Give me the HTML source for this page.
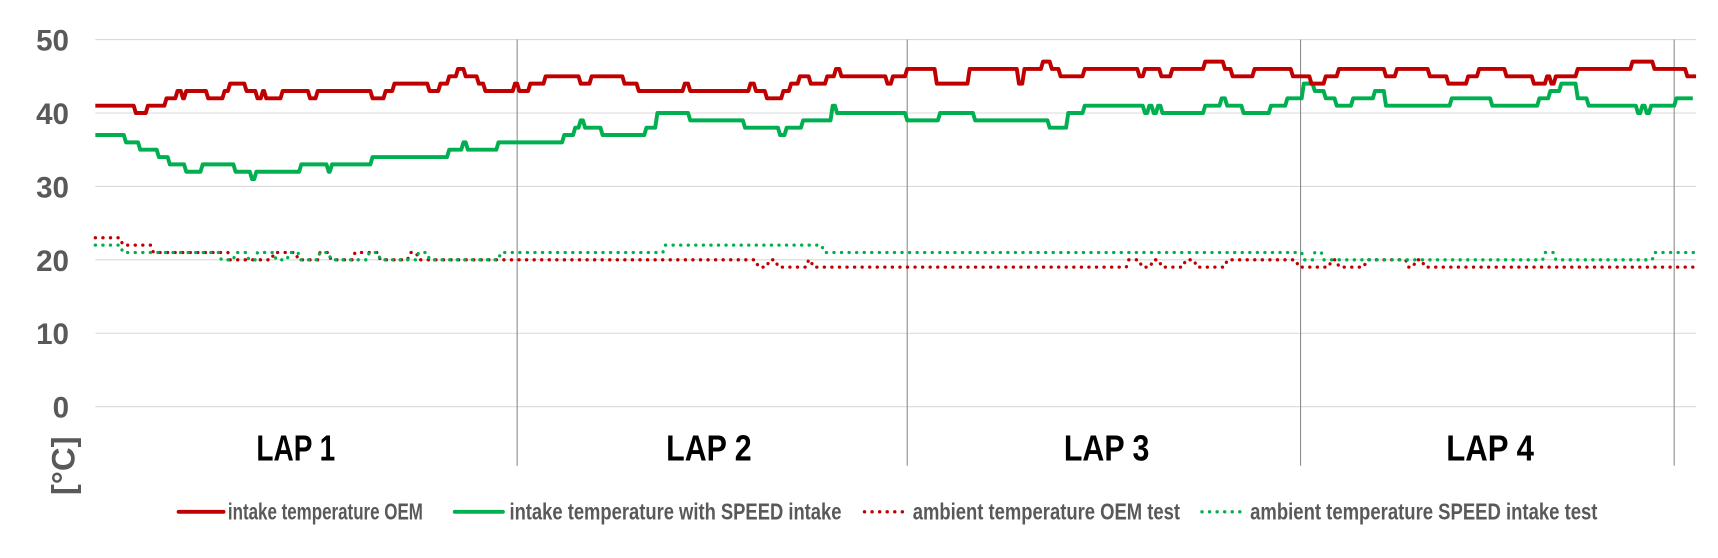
<!DOCTYPE html>
<html><head><meta charset="utf-8"><style>
html,body{margin:0;padding:0;background:#fff;}
svg{display:block;}
text{font-family:"Liberation Sans",sans-serif;font-weight:bold;}
</style></head><body>
<svg id="s" width="1718" height="558" viewBox="0 0 1568 509" xmlns="http://www.w3.org/2000/svg">
<rect width="1568" height="509" fill="#fff"/>
<g stroke="#d9d9d9" stroke-width="1">
<line x1="87" x2="1548" y1="36" y2="36"/><line x1="87" x2="1548" y1="103" y2="103"/>
<line x1="87" x2="1548" y1="170" y2="170"/><line x1="87" x2="1548" y1="237" y2="237"/>
<line x1="87" x2="1548" y1="304" y2="304"/><line x1="87" x2="1548" y1="371" y2="371"/>
</g>
<g stroke="#8c8c8c" stroke-width="1">
<line x1="472" x2="472" y1="36" y2="425"/><line x1="828" x2="828" y1="36" y2="425"/>
<line x1="1187" x2="1187" y1="36" y2="425"/><line x1="1528" x2="1528" y1="36" y2="425"/>
</g>
<g fill="#595959" font-size="27" text-anchor="end">
<text x="63" y="46">50</text><text x="63" y="113">40</text><text x="63" y="180">30</text>
<text x="63" y="247">20</text><text x="63" y="314">10</text><text x="63" y="381">0</text>
</g>
<text transform="translate(68,425) rotate(-90)" fill="#595959" font-size="30" text-anchor="middle">[°C]</text>
<g fill="#000" font-size="33" text-anchor="middle">
<text x="270" y="420" textLength="72" lengthAdjust="spacingAndGlyphs">LAP 1</text>
<text x="647" y="420" textLength="78" lengthAdjust="spacingAndGlyphs">LAP 2</text>
<text x="1010" y="420" textLength="78" lengthAdjust="spacingAndGlyphs">LAP 3</text>
<text x="1360" y="420" textLength="80" lengthAdjust="spacingAndGlyphs">LAP 4</text>
</g>
<g id="series" fill="none"></g>
<line x1="163" x2="204" y1="467" y2="467" stroke="#c00000" stroke-width="3.5" stroke-linecap="round"/>
<line x1="415" x2="459" y1="467" y2="467" stroke="#00b050" stroke-width="3.5" stroke-linecap="round"/>
<line x1="789" x2="828" y1="467" y2="467" stroke="#c00000" stroke-width="3" stroke-linecap="round" stroke-dasharray="0.1 6.8"/>
<line x1="1097" x2="1137" y1="467" y2="467" stroke="#00b050" stroke-width="3" stroke-linecap="round" stroke-dasharray="0.1 6.8"/>
<g fill="#595959" font-size="21">
<text x="208" y="474" textLength="178" lengthAdjust="spacingAndGlyphs">intake temperature OEM</text>
<text x="465" y="474" textLength="303" lengthAdjust="spacingAndGlyphs">intake temperature with SPEED intake</text>
<text x="833" y="474" textLength="244" lengthAdjust="spacingAndGlyphs">ambient temperature OEM test</text>
<text x="1141" y="474" textLength="317" lengthAdjust="spacingAndGlyphs">ambient temperature SPEED intake test</text>
</g>
</svg>
<script>
function Y(v){return 371-v*6.7;}
function path(seg){var d="";seg.forEach(function(s,i){var x0=s[0],x1=s[1],y=Y(s[2]);if(i==0)d+="M"+x0+" "+y;else d+=" L"+(x0)+" "+y;d+=" L"+x1+" "+y;});return d;}
var red=[[87,122,41],[124,133,40],[135,150,41],[152,160,42],[162,165,43],[167,168,42],[170,188,43],[190,203,42],[205,208,43],[210,223,44],[225,233,43],[235,238,42],[240,241,43],[243,256,42],[258,281,43],[283,288,42],[290,338,43],[340,350,42],[352,358,43],[360,390,44],[392,400,43],[402,408,44],[410,416,45],[418,423,46],[425,435,45],[437,441,44],[443,468,43],[470,472,44],[474,482,43],[484,496,44],[498,528,45],[530,538,44],[540,568,45],[570,581,44],[583,623,43],[625,628,44],[630,683,43],[685,688,44],[690,698,43],[700,713,42],[715,720,43],[722,728,44],[730,738,45],[740,753,44],[755,761,45],[763,766,46],[768,808,45],[810,813,44],[815,826,45],[828,853,46],[855,883,44],[885,928,46],[930,933,44],[935,950,46],[952,958,47],[960,966,46],[968,988,45],[990,1038,46],[1040,1043,45],[1045,1058,46],[1060,1068,45],[1070,1098,46],[1100,1116,47],[1118,1123,46],[1125,1143,45],[1145,1178,46],[1180,1195,45],[1197,1208,44],[1210,1220,45],[1222,1263,46],[1265,1273,45],[1275,1303,46],[1305,1320,45],[1322,1338,44],[1340,1348,45],[1350,1373,46],[1375,1398,45],[1400,1410,44],[1412,1414,45],[1416,1418,44],[1420,1438,45],[1440,1488,46],[1490,1508,47],[1510,1538,46],[1540,1548,45]];
var green=[[87,113,37],[115,126,36],[128,143,35],[145,153,34],[155,168,33],[170,183,32],[185,213,33],[215,228,32],[230,232,31],[234,273,32],[275,298,33],[300,301,32],[303,338,33],[340,408,34],[410,421,35],[423,425,36],[427,453,35],[455,513,36],[515,523,37],[525,528,38],[530,532,39],[534,548,38],[550,588,37],[590,598,38],[600,628,40],[630,678,39],[680,710,38],[712,716,37],[718,731,38],[733,758,39],[760,762,41],[764,798,40],[800,826,40],[828,856,39],[858,888,40],[890,956,39],[958,973,38],[975,988,40],[990,1043,41],[1045,1047,40],[1049,1051,41],[1053,1055,40],[1057,1059,41],[1061,1098,40],[1100,1113,41],[1115,1118,42],[1120,1133,41],[1135,1158,40],[1160,1173,41],[1175,1188,42],[1190,1198,44],[1200,1208,43],[1210,1218,42],[1220,1233,41],[1235,1253,42],[1255,1263,43],[1265,1323,41],[1325,1333,42],[1335,1360,42],[1362,1378,41],[1380,1403,41],[1405,1413,42],[1415,1423,43],[1425,1438,44],[1440,1448,42],[1450,1493,41],[1495,1497,40],[1499,1501,41],[1503,1505,40],[1507,1528,41],[1530,1545,42]];
var rA=[[87,110,23],[112,138,22],[140,208,21],[210,248,20],[250,270,21],[272,290,20],[292,300,21],[302,322,20],[324,345,21],[347,372,20],[374,380,21],[382,690,20],[692,700,19],[702,708,20],[710,736,19],[738,740,20],[742,1028,19],[1030,1040,20],[1042,1050,19],[1052,1058,20],[1060,1080,19],[1082,1090,20],[1092,1118,19],[1120,1183,20],[1185,1213,19],[1215,1220,20],[1222,1245,19],[1247,1283,20],[1285,1290,19],[1292,1298,20],[1300,1548,19]];
var gA=[[87,110,22],[112,200,21],[202,213,20],[215,225,21],[227,233,20],[235,250,21],[252,262,20],[264,272,21],[274,290,20],[292,300,21],[302,335,20],[337,345,21],[347,380,20],[382,390,21],[392,455,20],[457,558,21],[560,605,21],[607,750,22],[752,1188,21],[1190,1198,20],[1200,1206,21],[1208,1408,20],[1410,1418,21],[1420,1508,20],[1510,1548,21]];
var g=document.getElementById("series");
function add(seg,col,dot){var p=document.createElementNS("http://www.w3.org/2000/svg","path");p.setAttribute("d",path(seg));p.setAttribute("stroke",col);if(dot){p.setAttribute("stroke-width","3");p.setAttribute("stroke-linecap","round");p.setAttribute("stroke-dasharray","0.1 6.8");}else{p.setAttribute("stroke-width","3.6");p.setAttribute("stroke-linejoin","round");}g.appendChild(p);}
add(rA,"#c00000",1);add(gA,"#00b050",1);add(green,"#00b050",0);add(red,"#c00000",0);
</script>
</body></html>
